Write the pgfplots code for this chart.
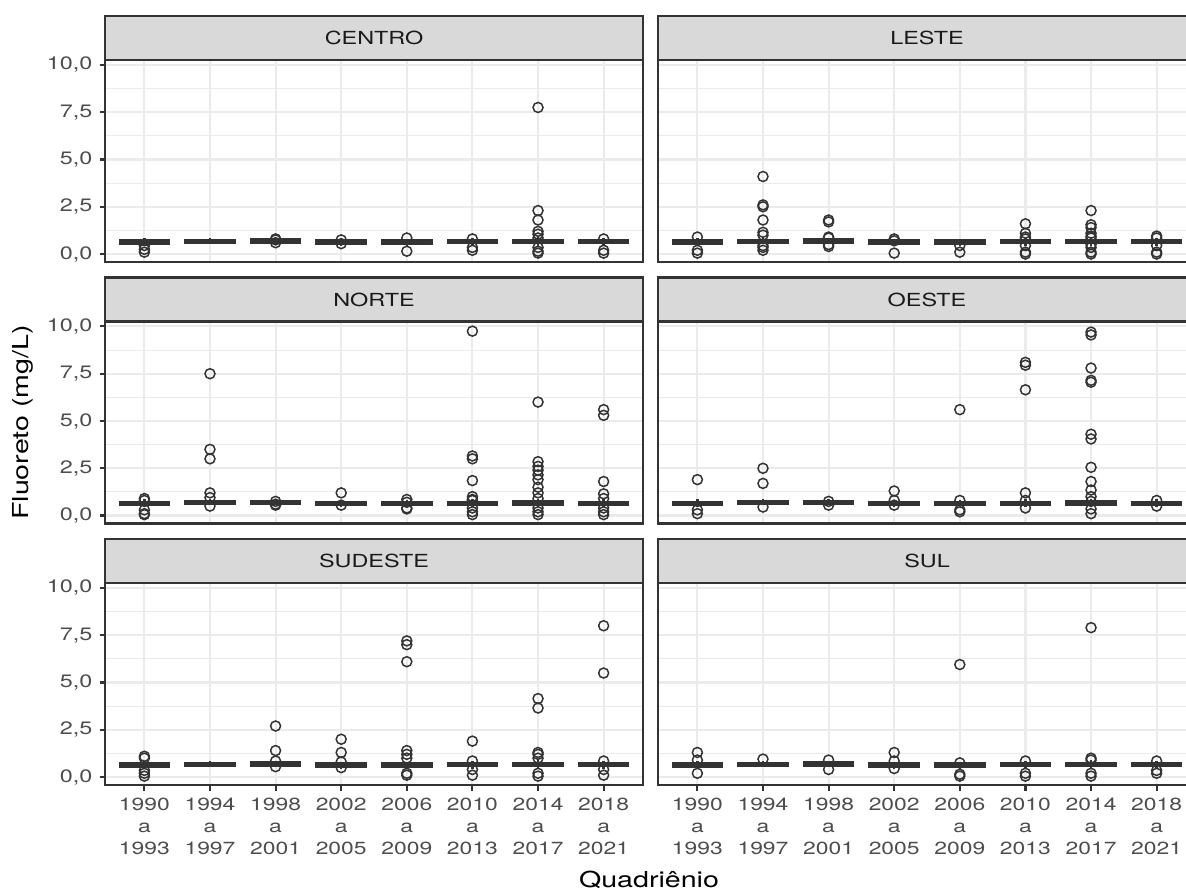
\documentclass[border=0pt]{standalone}
\usepackage{fontspec}
\setmainfont{TeX Gyre Heros}[FakeStretch=1.3]
\usepackage{pgfplots}
\pgfplotsset{compat=1.18}
\usepgfplotslibrary{statistics}
\usetikzlibrary{calc}
\definecolor{gray10}{HTML}{1A1A1A}
\definecolor{gray20}{HTML}{333333}
\definecolor{gray30}{HTML}{4D4D4D}
\definecolor{gray85}{HTML}{D9D9D9}
\definecolor{gray92}{HTML}{EBEBEB}
\newcommand{\bx}[6]{\addplot[boxplot prepared={draw position=#1, lower whisker=#2, lower quartile=#3, median=#4, upper quartile=#5, upper whisker=#6, box extend=0.75, whisker extend=0, every median/.style={line width=2.1pt}}, draw=gray20, fill=white, line width=1.2pt, solid, mark=none] coordinates {};}
\newcommand{\stdboxes}{%
\bx{1}{0.45}{0.55}{0.63}{0.71}{0.85}
\bx{2}{0.55}{0.6}{0.68}{0.75}{0.85}
\bx{3}{0.55}{0.62}{0.7}{0.77}{0.85}
\bx{4}{0.45}{0.55}{0.63}{0.71}{0.8}
\bx{5}{0.45}{0.55}{0.63}{0.71}{0.8}
\bx{6}{0.45}{0.57}{0.65}{0.73}{0.85}
\bx{7}{0.45}{0.59}{0.67}{0.75}{0.9}
\bx{8}{0.45}{0.57}{0.65}{0.73}{0.85}}
\pgfplotsset{
 panel/.style={
  scale only axis, width=269pt, height=101pt,
  xmin=0.4, xmax=8.6, ymin=-0.42, ymax=10.26,
  boxplot/draw direction=y,
  xtick={1,...,8}, ytick={0,2.5,5,7.5,10}, minor ytick={1.25,3.75,6.25,8.75},
  grid=both,
  major grid style={color=gray92, line width=1.07pt},
  minor grid style={color=gray92, line width=0.53pt},
  axis line style={draw=gray20, line width=1.07pt},
  tick align=outside, major tick length=2.75pt, minor tick length=0pt,
  tick style={draw=gray20, line width=1.07pt},
  xtick pos=lower, ytick pos=left,
  /pgf/number format/.cd, fixed, fixed zerofill, precision=1, use comma, assume math mode=true,
  /pgfplots/.cd,
  yticklabel style={font=\fontsize{9}{10}\selectfont, text=gray30},
  xticklabel style={font=\fontsize{8.8}{11}\selectfont, text=gray30, align=center},
 },
 noxt/.style={xticklabels={}, xtick style={draw=none}},
 noyt/.style={yticklabels={}, ytick style={draw=none}},
 bottom/.style={xticklabels={1990\\a\\1993,1994\\a\\1997,1998\\a\\2001,2002\\a\\2005,2006\\a\\2009,2010\\a\\2013,2014\\a\\2017,2018\\a\\2021}},
 out/.style={only marks, mark=o, mark size=2.5pt, draw=gray20, mark options={line width=0.75pt, draw=gray20}},
}
\newcommand{\strip}[2]{%
 \draw[fill=gray85, draw=gray20, line width=1.07pt] (#1.north west) rectangle ([yshift=22pt]#1.north east);
 \node[font=\fontsize{9}{10}\selectfont, text=gray10] at ([yshift=11pt]$(#1.north west)!0.5!(#1.north east)$) {#2};}
\begin{document}
\begin{tikzpicture}
% Row 1
\begin{axis}[panel, noxt, name=p1, at={(52.5pt,-30pt)}, anchor=north west]
\stdboxes
\addplot[out] coordinates {(1,0.1)(1,0.25)(1,0.45)(3,0.6)(3,0.75)(3,0.8)(4,0.55)(4,0.75)(5,0.15)(5,0.85)(6,0.2)(6,0.35)(6,0.8)(7,7.75)(7,2.3)(7,1.8)(7,1.2)(7,1.05)(7,0.85)(7,0.35)(7,0.15)(7,0.05)(8,0.05)(8,0.2)(8,0.8)};
\end{axis}
\begin{axis}[panel, noxt, noyt, name=p2, at={(329pt,-30pt)}, anchor=north west]
\stdboxes
\addplot[out] coordinates {(1,0.05)(1,0.2)(1,0.9)(2,4.1)(2,2.6)(2,2.5)(2,1.8)(2,1.15)(2,1.0)(2,0.45)(2,0.35)(2,0.2)(3,1.8)(3,1.7)(3,0.9)(3,0.85)(3,0.5)(3,0.4)(4,0.05)(4,0.8)(4,0.7)(5,0.1)(5,0.45)(6,1.6)(6,1.1)(6,0.9)(6,0.8)(6,0.45)(6,0.1)(6,0.0)(7,2.3)(7,1.55)(7,1.4)(7,1.1)(7,0.95)(7,0.85)(7,0.5)(7,0.35)(7,0.1)(7,0.0)(8,0.95)(8,0.85)(8,0.45)(8,0.1)(8,0.0)};
\end{axis}
% Row 2
\begin{axis}[panel, noxt, name=p3, at={(52.5pt,-160.75pt)}, anchor=north west]
\stdboxes
\addplot[out] coordinates {(1,0.9)(1,0.8)(1,0.3)(1,0.1)(1,0.05)(2,7.5)(2,3.5)(2,3.0)(2,1.2)(2,0.95)(2,0.5)(3,0.75)(3,0.6)(3,0.55)(4,1.2)(4,0.55)(5,0.85)(5,0.7)(5,0.4)(5,0.35)(6,9.75)(6,3.15)(6,3.0)(6,1.85)(6,1.0)(6,0.85)(6,0.8)(6,0.4)(6,0.2)(6,0.05)(7,6.0)(7,2.85)(7,2.6)(7,2.4)(7,2.15)(7,1.9)(7,1.5)(7,1.2)(7,0.9)(7,0.4)(7,0.2)(7,0.05)(8,5.6)(8,5.3)(8,1.8)(8,1.15)(8,0.9)(8,0.4)(8,0.2)(8,0.05)};
\end{axis}
\begin{axis}[panel, noxt, noyt, name=p4, at={(329pt,-160.75pt)}, anchor=north west]
\stdboxes
\addplot[out] coordinates {(1,1.9)(1,0.3)(1,0.1)(2,2.5)(2,1.7)(2,0.45)(3,0.75)(3,0.55)(4,1.3)(4,0.8)(4,0.55)(5,5.6)(5,0.8)(5,0.3)(5,0.2)(6,8.1)(6,7.95)(6,6.65)(6,1.2)(6,0.8)(6,0.4)(7,9.7)(7,9.55)(7,7.8)(7,7.15)(7,7.05)(7,4.3)(7,4.05)(7,2.55)(7,1.8)(7,1.35)(7,1.0)(7,0.75)(7,0.35)(7,0.1)(8,0.8)(8,0.5)};
\end{axis}
% Row 3
\begin{axis}[panel, bottom, name=p5, at={(52.5pt,-291.5pt)}, anchor=north west]
\stdboxes
\addplot[out] coordinates {(1,1.1)(1,1.0)(1,0.35)(1,0.2)(1,0.05)(3,2.7)(3,1.4)(3,0.85)(3,0.55)(4,2.0)(4,1.3)(4,0.8)(4,0.5)(5,7.2)(5,7.0)(5,6.1)(5,1.4)(5,1.2)(5,1.0)(5,0.2)(5,0.1)(6,1.9)(6,0.85)(6,0.4)(6,0.1)(7,4.15)(7,3.65)(7,1.3)(7,1.2)(7,1.0)(7,0.2)(7,0.05)(8,8.0)(8,5.5)(8,0.85)(8,0.4)(8,0.1)};
\end{axis}
\begin{axis}[panel, bottom, noyt, name=p6, at={(329pt,-291.5pt)}, anchor=north west]
\stdboxes
\addplot[out] coordinates {(1,1.3)(1,0.9)(1,0.2)(2,0.95)(3,0.9)(3,0.4)(4,1.3)(4,0.85)(4,0.45)(5,5.95)(5,0.75)(5,0.15)(5,0.05)(6,0.85)(6,0.2)(6,0.05)(7,7.9)(7,1.0)(7,0.9)(7,0.2)(7,0.05)(8,0.85)(8,0.35)(8,0.2)};
\end{axis}
\strip{p1}{CENTRO}
\strip{p2}{LESTE}
\strip{p3}{NORTE}
\strip{p4}{OESTE}
\strip{p5}{SUDESTE}
\strip{p6}{SUL}
\node[rotate=90, font=\fontsize{11}{13}\selectfont] at (11.5pt,-211.25pt) {Fluoreto (mg/L)};
\node[anchor=base, font=\fontsize{11}{13}\selectfont] at (324.5pt,-443.5pt) {Quadriênio};
\pgfresetboundingbox
\useasboundingbox (0,0) rectangle (593pt,-446.5pt);
\end{tikzpicture}
\end{document}
